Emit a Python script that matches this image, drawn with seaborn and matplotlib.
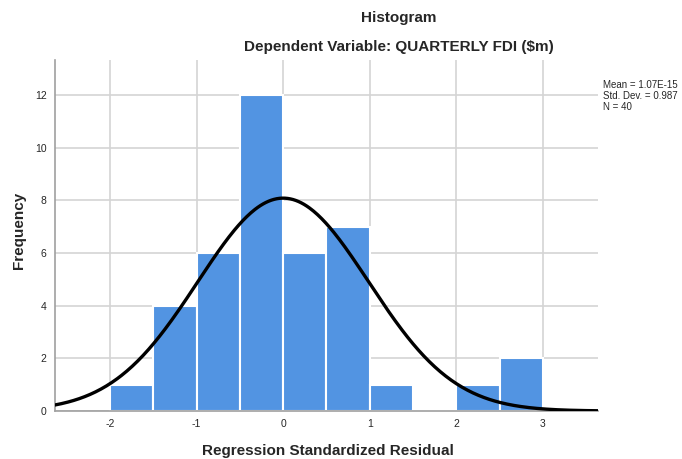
import matplotlib
matplotlib.use("Agg")
import matplotlib.pyplot as plt
import numpy as np
import pandas as pd
import seaborn as sns

# Histogram bins (left edges) and counts
bin_edges = [-2.0, -1.5, -1.0, -0.5, 0.0, 0.5, 1.0, 1.5, 2.0, 2.5, 3.0]
counts = [1, 4, 6, 12, 6, 7, 1, 0, 1, 2]

# Stats shown in the annotation
mean_val = 1.07e-15
std_val = 0.987
n_obs = 40

x_ticks = [-2, -1, 0, 1, 2, 3]
y_ticks = [0, 2, 4, 6, 8, 10, 12]


def main():
    sns.set_style("white")
    plt.rcParams['font.family'] = ['Liberation Sans', 'DejaVu Sans']
    plt.rcParams['axes.unicode_minus'] = False

    fig = plt.figure(figsize=(6.82, 4.59), dpi=100)
    ax = fig.add_axes([55 / 682, 48 / 459, 543 / 682, 351 / 459])

    centers = [(a + b) / 2 for a, b in zip(bin_edges[:-1], bin_edges[1:])]
    df = pd.DataFrame({'resid': centers, 'count': counts})

    ax.set_axisbelow(True)
    ax.grid(True, color='#d4d4d4', linewidth=1.2)

    sns.histplot(data=df, x='resid', weights='count', bins=bin_edges,
                 color='#5294e2', alpha=1, edgecolor='white', linewidth=1.5,
                 ax=ax, zorder=2)

    # fitted normal curve, scaled to counts
    bw = bin_edges[1] - bin_edges[0]
    xs = np.linspace(-2.64, 3.64, 400)
    ys = n_obs * bw * np.exp(-0.5 * ((xs - mean_val) / std_val) ** 2) / (std_val * np.sqrt(2 * np.pi))
    sns.lineplot(x=xs, y=ys, color='black', linewidth=2.4, ax=ax, zorder=3)

    ax.set_xlim(-2.635, 3.635)
    ax.set_ylim(0, 13.33)
    ax.set_xticks(x_ticks)
    ax.set_yticks(y_ticks)
    ax.tick_params(length=0, labelsize=7.5, pad=6)
    for s in ['top', 'right']:
        ax.spines[s].set_visible(False)
    for s in ['left', 'bottom']:
        ax.spines[s].set_color('#a0a0a0')
        ax.spines[s].set_linewidth(1.2)

    ax.set_xlabel('')
    ax.set_ylabel('')
    fig.text(328 / 682, 1 - 451 / 459, 'Regression Standardized Residual',
             ha='center', va='center', fontsize=11, fontweight='bold')
    fig.text(19 / 682, 1 - 230 / 459, 'Frequency', ha='center', va='center',
             rotation=90, fontsize=11, fontweight='bold')

    fig.text(399 / 682, 1 - 18 / 459, 'Histogram', ha='center', va='center',
             fontsize=11, fontweight='bold')
    fig.text(399 / 682, 1 - 47 / 459, 'Dependent Variable: QUARTERLY FDI ($m)',
             ha='center', va='center', fontsize=11, fontweight='bold')

    fig.text(603 / 682, 1 - 96 / 459,
             f"Mean = {mean_val:.2E}\nStd. Dev. = {std_val}\nN = {n_obs}",
             ha='left', va='center', fontsize=7, linespacing=1.1)

    fig.savefig('out.png', dpi=100)


if __name__ == "__main__":
    main()
